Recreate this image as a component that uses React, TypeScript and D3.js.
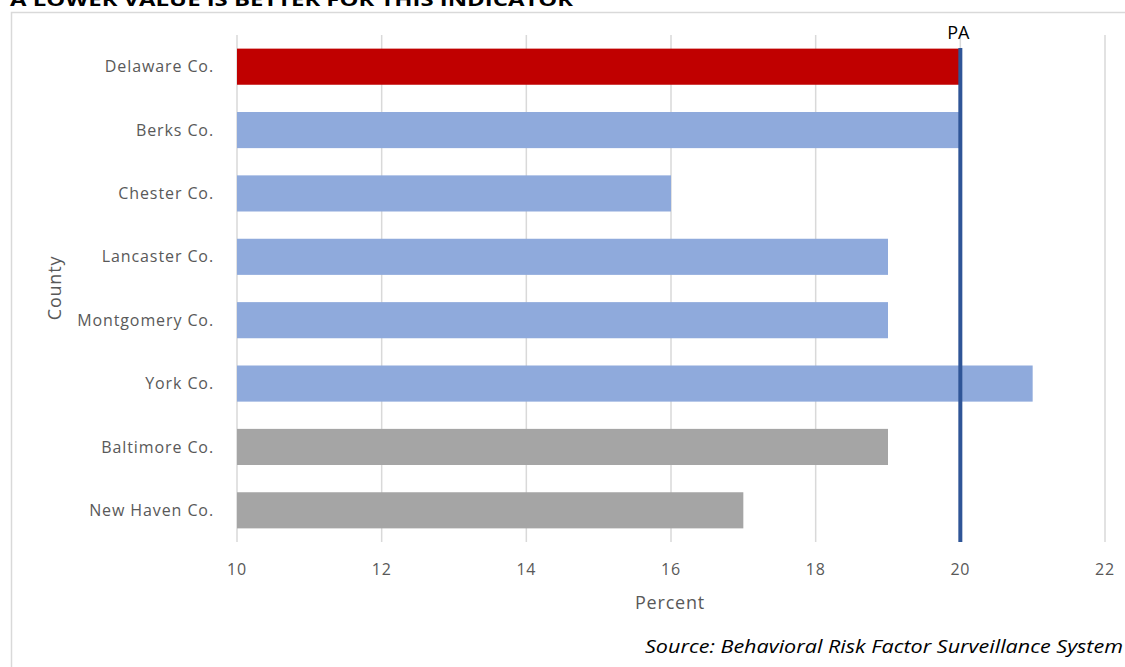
import React from "react";
import * as d3 from "d3";

const counties = ["Delaware Co.", "Berks Co.", "Chester Co.", "Lancaster Co.", "Montgomery Co.", "York Co.", "Baltimore Co.", "New Haven Co."];
const values = [20, 20, 16, 19, 19, 21, 19, 17];
const groups = ["focus", "pa", "pa", "pa", "pa", "pa", "other", "other"];
const xTicks = [10, 12, 14, 16, 18, 20, 22];
const paValue = 20;
const title = "A LOWER VALUE IS BETTER FOR THIS INDICATOR";
const source = "Source: Behavioral Risk Factor Surveillance System";

const colors: Record<string, string> = { focus: "#C00000", pa: "#8FAADC", other: "#A5A5A5" };
const FONT = "'Open Sans', Lato, sans-serif";

export default function App() {
  const W = 1125, H = 667;
  const left = 237, right = 1105, top = 35, bottom = 542;
  const x = d3.scaleLinear().domain([10, 22]).range([left, right]);
  const y = d3.scaleBand().domain(counties).range([top, bottom]).paddingInner(0.43).paddingOuter(0.215);

  return (
    <svg width={W} height={H} style={{ position: "absolute", left: 0, top: 0, background: "#fff" }} fontFamily={FONT}>
      <text x={10} y={6} fontSize={18} fontWeight="bold" fill="#000" textLength={563} lengthAdjust="spacingAndGlyphs">{title}</text>
      <rect x={11.5} y={12.5} width={1200} height={700} fill="none" stroke="#D9D9D9" strokeWidth={1.5} />
      {xTicks.map((t) => (
        <g key={t}>
          {t > 10 && <line x1={x(t)} x2={x(t)} y1={top} y2={bottom} stroke="#D9D9D9" strokeWidth={1.5} />}
          <text x={x(t)} y={575} textAnchor="middle" fontSize={16} letterSpacing={0.8} fill="#595959">{t}</text>
        </g>
      ))}
      <line x1={x(10)} x2={x(10)} y1={top} y2={bottom} stroke="#D9D9D9" strokeWidth={1.5} />
      {counties.map((c, i) => (
        <g key={c}>
          <rect x={x(10)} y={y(c)!} width={x(values[i]) - x(10)} height={y.bandwidth()} fill={colors[groups[i]]} />
          <text x={214} y={y(c)! + y.bandwidth() / 2} dy="0.35em" textAnchor="end" fontSize={16} letterSpacing={0.9} fill="#595959">{c}</text>
        </g>
      ))}
      <line x1={x(paValue)} x2={x(paValue)} y1={top + 13} y2={bottom} stroke="#2F5597" strokeWidth={4} />
      <text x={x(paValue) - 2} y={39} textAnchor="middle" fontSize={18} fill="#000">PA</text>
      <text x={670} y={609} textAnchor="middle" fontSize={18} letterSpacing={0.8} fill="#595959">Percent</text>
      <text transform={`translate(61,288) rotate(-90)`} textAnchor="middle" fontSize={18} letterSpacing={0.8} fill="#595959">County</text>
      <text x={1123} y={653} textAnchor="end" fontSize={19} fontStyle="italic" fill="#000" textLength={478} lengthAdjust="spacingAndGlyphs">{source}</text>
    </svg>
  );
}
